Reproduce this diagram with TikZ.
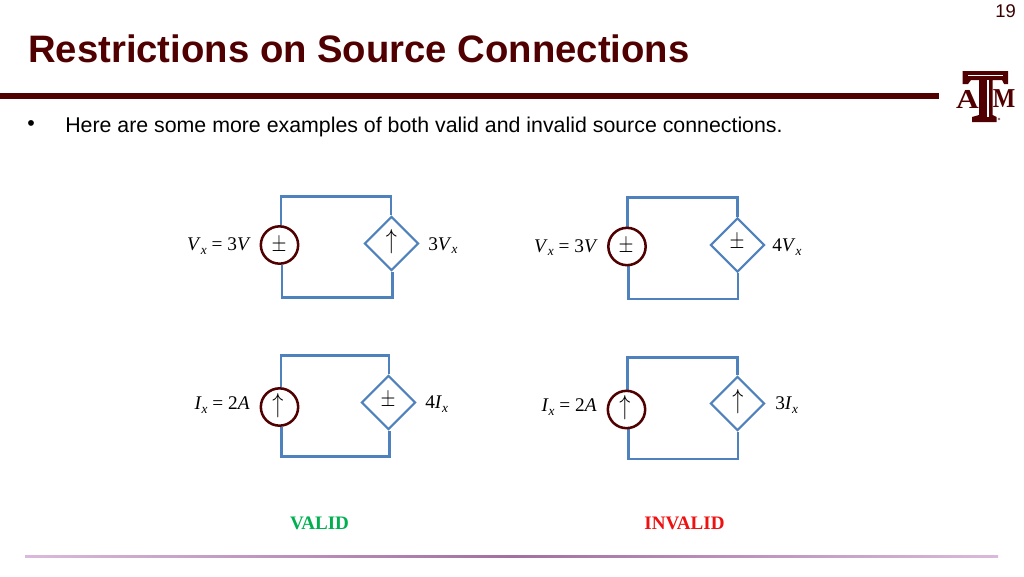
\documentclass[tikz,border=0pt]{standalone}
\usepackage{fontspec}
\setmainfont{Liberation Sans}
\newfontfamily\timesf{Liberation Serif}
\usetikzlibrary{shapes.geometric,backgrounds}
\definecolor{maroon}{HTML}{500000}
\definecolor{wire}{HTML}{4F81BD}
\definecolor{vgreen}{HTML}{00B050}
\definecolor{ired}{HTML}{EE1111}
\definecolor{footA}{HTML}{DABADA}
\definecolor{footB}{HTML}{A26FA0}
\tikzset{
  x=0.75pt,y=-0.75pt,
  wireline/.style={draw=wire,line width=1.9pt,line join=miter},
  indep/.style={circle,draw=maroon,line width=1.9pt,fill=white,minimum size=28pt,inner sep=0pt},
  dep/.style={diamond,draw=wire,line width=1.6pt,fill=white,minimum size=40.5pt,inner sep=0pt,aspect=1},
  lab/.style={inner sep=0pt,font=\timesf\fontsize{14.5}{15}\selectfont},
  pm/.style={inner sep=0pt,font=\fontsize{14}{14}\selectfont},
  uparr/.style={inner sep=0pt,font=\fontsize{20}{20}\selectfont},
  verdict/.style={inner sep=0pt,font=\timesf\bfseries\fontsize{14.3}{15}\selectfont},
  logoletter/.style={inner sep=0pt,font=\timesf\bfseries\fontsize{20.5}{21}\selectfont,text=maroon},
}
\newcommand{\pmsign}{\scalebox{1}[1.25]{$\pm$}}
\newcommand{\uparrsign}{\scalebox{0.8}[1]{$\uparrow$}}
\newcommand{\symb}[2]{\textit{#1}\raisebox{-2.5pt}{\fontsize{10}{10}\selectfont\textit{#2}}}
\begin{document}
\begin{tikzpicture}
\useasboundingbox (0,0) rectangle (1024,576);
% header
\node[inner sep=0pt,anchor=base east,font=\fontsize{13.8}{15}\selectfont,text=maroon!70!black] (pageno) at (1016,17.5) {19};
\node[inner sep=0pt,anchor=base west,font=\bfseries\fontsize{28.7}{32}\selectfont,text=maroon] (title) at (28,62.5) {Restrictions on Source Connections};
\fill[maroon] (0,93) rectangle (939,99);
\node[inner sep=0pt,font=\fontsize{16}{18}\selectfont] (bullet) at (31,126) {•};
\node[inner sep=0pt,anchor=base west,font=\fontsize{16}{18}\selectfont] (body) at (65,132) {Here are some more examples of both valid and invalid source connections.};
% logo
\fill[maroon] (962.5,71) -- (1008,71) -- (1008,84) -- (1004,84) -- (1002,80) -- (992.7,80) -- (992.7,115) -- (996.5,117) -- (996.5,122) -- (972,122) -- (972,117) -- (979,115) -- (979,80) -- (971,80) -- (968,84) -- (962.5,84) -- cycle;
\draw[white,line width=0.7pt] (968,75) -- (1003,75);
\draw[white,line width=0.8pt] (988,80) -- (988,117);
\node[logoletter] (logoA) at (967.5,99) {\scalebox{1.15}[1]{A}};
\node[logoletter] (logoM) at (1004,99) {\scalebox{0.87}[1]{M}};
\fill[maroon!60] (999,119) circle (1.3);
% circuit 1
\coordinate (tl1) at (281,196.5); \coordinate (tr1) at (391,196.5);
\coordinate (bl1) at (282,297.5); \coordinate (br1) at (392.5,297.5);
\node[indep] (s1) at (279.5,245) {};
\node[dep] (d1) at (391.5,243.5) {};
\begin{scope}[on background layer]
\draw[wireline] (tl1 |- s1.north) -- (tl1) -- (tr1) -- (tr1 |- d1.north);
\draw[wireline] (bl1 |- s1.south) -- (bl1) -- (br1) -- (br1 |- d1.south);
\end{scope}
\node[pm] (p1) at (279,245) {\pmsign};
\node[uparr] (a1) at (391.5,242) {\uparrsign};
\node[lab,anchor=east] (l1) at (251,246) {\symb{V}{x} = 3\textit{V}};
\node[lab,anchor=west] (r1) at (428,245.5) {3\symb{V}{x}};
% circuit 2
\coordinate (tl2) at (627.5,197.5); \coordinate (tr2) at (737.5,197.5);
\coordinate (bl2) at (628.5,299); \coordinate (br2) at (738,299);
\node[indep] (s2) at (627,246.5) {};
\node[dep] (d2) at (737.5,245) {};
\begin{scope}[on background layer]
\draw[wireline] (tl2 |- s2.north) -- (tl2) -- (tr2) -- (tr2 |- d2.north);
\draw[wireline] (bl2 |- s2.south) -- (bl2) -- (br2) -- (br2 |- d2.south);
\end{scope}
\node[pm] (p2) at (626,246.5) {\pmsign};
\node[pm] (q2) at (737,242.5) {\pmsign};
\node[lab,anchor=east] (l2) at (598,247.5) {\symb{V}{x} = 3\textit{V}};
\node[lab,anchor=west] (r2) at (772,247) {4\symb{V}{x}};
% circuit 3
\coordinate (tl3) at (281,355.5); \coordinate (tr3) at (389,355.5);
\coordinate (bl3) at (281.5,456.5); \coordinate (br3) at (389.5,456.5);
\node[indep] (s3) at (279.5,407) {};
\node[dep] (d3) at (388.5,402.5) {};
\begin{scope}[on background layer]
\draw[wireline] (tl3 |- s3.north) -- (tl3) -- (tr3) -- (tr3 |- d3.north);
\draw[wireline] (bl3 |- s3.south) -- (bl3) -- (br3) -- (br3 |- d3.south);
\end{scope}
\node[uparr] (a3) at (278,406) {\uparrsign};
\node[pm] (p3) at (388,400.5) {\pmsign};
\node[lab,anchor=east] (l3) at (250,405) {\symb{I}{x} = 2\textit{A}};
\node[lab,anchor=west] (r3) at (425,404) {4\symb{I}{x}};
% circuit 4
\coordinate (tl4) at (627.5,357.5); \coordinate (tr4) at (737.5,357.5);
\coordinate (bl4) at (628.5,459); \coordinate (br4) at (738,459);
\node[indep] (s4) at (626.5,409.5) {};
\node[dep] (d4) at (737.5,403.5) {};
\begin{scope}[on background layer]
\draw[wireline] (tl4 |- s4.north) -- (tl4) -- (tr4) -- (tr4 |- d4.north);
\draw[wireline] (bl4 |- s4.south) -- (bl4) -- (br4) -- (br4 |- d4.south);
\end{scope}
\node[uparr] (a4) at (625,408) {\uparrsign};
\node[uparr] (b4) at (738,402) {\uparrsign};
\node[lab,anchor=east] (l4) at (597,407) {\symb{I}{x} = 2\textit{A}};
\node[lab,anchor=west] (r4) at (775,405) {3\symb{I}{x}};
% verdicts
\node[verdict,text=vgreen] (valid) at (319.5,523) {VALID};
\node[verdict,text=ired] (invalid) at (684.5,523) {INVALID};
% footer rule
\shade[left color=footA,right color=footA,middle color=footB] (25,555.5) rectangle (998,557.5);
\end{tikzpicture}
\end{document}
